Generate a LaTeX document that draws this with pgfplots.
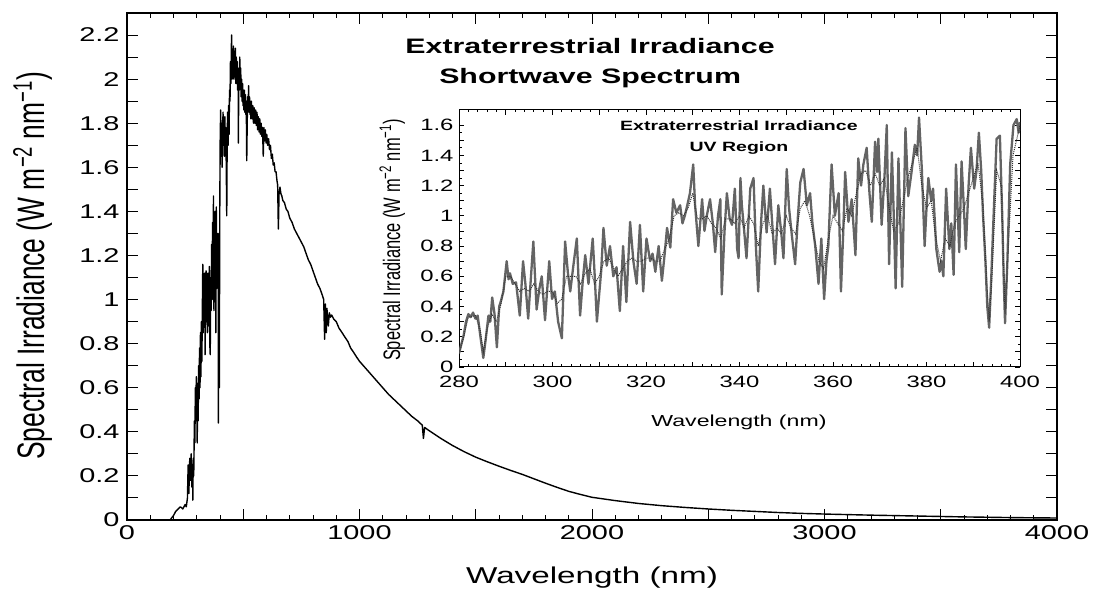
\documentclass[border=0pt]{standalone}
\usepackage{pgfplots}
\pgfplotsset{compat=1.18}
\usepackage{fontspec}
\setmainfont{Liberation Sans}[FakeStretch=1.45]
\newfontfamily\rotfont{Liberation Sans}
\definecolor{uvgray}{RGB}{100,100,100}
\begin{document}
\begin{tikzpicture}
\path[use as bounding box] (0,0) rectangle (1094bp,594bp);
% ---------------- main axis ----------------
\begin{axis}[
  at={(127bp,74bp)}, anchor=south west,
  scale only axis, width=930bp, height=507bp,
  xmin=0, xmax=4000, ymin=0, ymax=2.3,
  axis line style={line width=1.2bp},
  /pgf/number format/assume math mode=true,
  xtick={0,500,...,4000},
  xticklabels={0,,1000,,2000,,3000,,4000},
  minor x tick num=4,
  ytick={0,0.1,0.2,0.3,0.4,0.5,0.6,0.7,0.8,0.9,1.0,1.1,1.2,1.3,1.4,1.5,1.6,1.7,1.8,1.9,2.0,2.1,2.2},
  yticklabels={0,,0.2,,0.4,,0.6,,0.8,,1,,1.2,,1.4,,1.6,,1.8,,2,,2.2},
  tick align=inside,
  major tick length=11bp, minor tick length=5bp,
  every tick/.style={line width=1bp, black},
  tick label style={font=\fontsize{20}{22}\selectfont},
  xticklabel style={yshift=-2bp},
  yticklabel style={xshift=-4bp},
  xlabel={Wavelength (nm)},
  xlabel style={font=\fontsize{23}{26}\selectfont, at={(axis description cs:0.5,-0.114)}, anchor=center},
  ylabel={\scalebox{1}[1.45]{\rotfont\fontsize{26.5}{30}\selectfont Spectral Irradiance (W m\textsuperscript{−2} nm\textsuperscript{−1})}},
  ylabel style={at={(axis description cs:-0.101,0.501)}, anchor=center, rotate=0},
  clip=true,
]
\addplot[black, line width=1.4bp, line join=round] coordinates {
(0,0) (100,0) (185,0) (200,0.02) (210,0.04) (220,0.05) (230,0.06) (240,0.05)
(250,0.07) (255,0.06) (260,0.10) (263,0.25) (266,0.12) (270,0.28) (273,0.18)
(276,0.30) (279,0.15) (282,0.22) (283,0.09) (285,0.28) (287,0.20) (290,0.45)
(292,0.35) (294,0.60) (296,0.45) (298,0.65)
(300,0.52) (302,0.35) (304,0.62) (306,0.45) (308,0.70) (310,0.55) (312,0.78)
(314,0.60) (316,0.85) (318,0.65) (320,0.90) (322,0.72) (324,0.95) (326,1.16)
(328,0.85) (330,1.10) (332,0.90) (334,1.12) (336,0.75) (338,1.10) (340,1.13)
(342,0.90) (344,1.10) (346,0.85) (348,1.12) (350,1.08) (352,0.88) (354,1.15)
(356,0.80) (358,0.75) (360,1.10) (362,0.95) (364,1.25) (366,1.00) (368,1.35)
(370,1.05) (372,1.47) (374,0.95) (376,1.35) (378,1.10) (380,1.40) (382,0.85)
(384,1.42) (386,1.05) (388,1.30) (390,1.10) (392,1.30) (393,0.44) (395,1.20)
(397,0.60) (399,1.40)
(401,1.75) (403,1.86) (405,1.65) (407,1.80) (409,1.60) (411,1.72) (413,1.85)
(415,1.70) (417,1.82) (419,1.65) (421,1.83) (423,1.70) (425,1.78) (427,1.60)
(429,1.38) (431,1.75) (433,1.85) (435,1.70) (437,1.88) (439,1.75) (441,1.95)
(443,1.90) (445,2.08) (447,1.98) (449,2.15) (450,2.20) (452,2.00) (454,2.12)
(456,2.02) (458,2.15) (460,2.00) (462,2.10) (464,2.01) (466,2.14) (468,1.98)
(470,2.10) (472,1.98) (474,2.08) (476,1.95) (478,2.05) (479,1.71) (481,2.03)
(483,1.95) (485,2.10) (487,1.98) (489,2.05) (491,1.92) (493,2.00) (495,1.90)
(497,1.98) (499,1.88) (501,1.95) (503,1.86) (505,1.95) (507,1.85) (509,1.93)
(511,1.84) (513,1.90) (515,1.63) (517,1.80) (519,1.92) (521,1.85) (523,1.97)
(525,1.86) (527,1.92) (529,1.84) (531,1.90) (533,1.82) (535,1.90) (538,1.82)
(541,1.88) (544,1.80) (547,1.87) (550,1.80) (553,1.86) (556,1.79) (559,1.85)
(562,1.77) (565,1.83) (568,1.76) (571,1.82) (574,1.75) (577,1.80) (580,1.74)
(583,1.78) (586,1.65) (589,1.78) (592,1.72) (595,1.77) (598,1.71) (601,1.75)
(605,1.70) (609,1.73) (613,1.68) (617,1.70) (621,1.64) (625,1.66) (629,1.61)
(633,1.62) (637,1.58) (641,1.58) (645,1.54) (648,1.52) (651,1.32) (654,1.48)
(658,1.51) (662,1.48) (666,1.47) (670,1.45) (677,1.44) (685,1.41) (692,1.40)
(700,1.37) (710,1.35) (720,1.32) (730,1.30) (740,1.28) (750,1.26) (760,1.24)
(770,1.21) (780,1.18) (790,1.16) (800,1.13) (810,1.10) (820,1.07) (830,1.05)
(840,1.02) (846,1.00) (850,0.82) (853,0.98) (857,0.85) (860,0.96) (863,0.90)
(866,0.88) (870,0.94) (875,0.92) (880,0.93) (890,0.91) (900,0.90) (912,0.87)
(925,0.85) (937,0.83) (950,0.81) (962,0.78) (975,0.76) (987,0.74)
(1000,0.72) (1025,0.69) (1050,0.66) (1075,0.63) (1100,0.60) (1125,0.57) (1150,0.545)
(1175,0.52) (1200,0.495) (1225,0.47) (1250,0.45) (1270,0.43) (1275,0.37) (1280,0.42)
(1300,0.405) (1350,0.37) (1400,0.338)
(1450,0.31) (1500,0.285) (1550,0.264) (1600,0.244) (1650,0.225) (1700,0.207)
(1750,0.187) (1800,0.167) (1850,0.148) (1900,0.130) (1950,0.116) (2000,0.103)
(2100,0.088) (2200,0.075) (2300,0.065) (2400,0.057) (2500,0.050) (2600,0.044)
(2700,0.039) (2800,0.034) (2900,0.030) (3000,0.027) (3200,0.022) (3400,0.018)
(3600,0.014) (3800,0.011) (4000,0.009)
};
\node[align=center, font=\bfseries\fontsize{21}{30}\selectfont] at (rel axis cs:0.498,0.901) {Extraterrestrial Irradiance\\Shortwave Spectrum};
\end{axis}
% ---------------- inset ----------------
\begin{axis}[
  at={(459bp,227bp)}, anchor=south west,
  scale only axis, width=561bp, height=257bp,
  xmin=280, xmax=400, ymin=0, ymax=1.7,
  axis background/.style={fill=white},
  axis line style={line width=1bp},
  /pgf/number format/assume math mode=true,
  xtick={280,290,...,400},
  xticklabels={280,,300,,320,,340,,360,,380,,400},
  minor x tick num=4,
  ytick={0,0.1,0.2,0.3,0.4,0.5,0.6,0.7,0.8,0.9,1.0,1.1,1.2,1.3,1.4,1.5,1.6},
  yticklabels={0,,0.2,,0.4,,0.6,,0.8,,1,,1.2,,1.4,,1.6},
  minor y tick num=1,
  tick align=inside,
  major tick length=5bp, minor tick length=2.5bp,
  every tick/.style={line width=0.8bp, black},
  tick label style={font=\fontsize{16.5}{18}\selectfont},
  xticklabel style={yshift=-6bp},
  yticklabel style={xshift=-2bp},
  xlabel={Wavelength (nm)},
  xlabel style={font=\fontsize{16}{18}\selectfont, at={(axis description cs:0.499,-0.216)}, anchor=center},
  ylabel={\scalebox{1}[1.45]{\rotfont\fontsize{16.5}{18}\selectfont Spectral Irradiance (W m\textsuperscript{−2} nm\textsuperscript{−1})}},
  ylabel style={at={(axis description cs:-0.119,0.494)}, anchor=center},
  clip=true,
]
\addplot[uvgray, line width=2.3bp, line join=round] coordinates {
(280.0,0.09) (280.5,0.15) (281.0,0.21) (281.5,0.30) (282.0,0.35) (282.5,0.33)
(283.0,0.36) (283.5,0.32) (284.0,0.34) (284.5,0.22) (285.2,0.06) (285.7,0.18)
(286.3,0.34) (286.7,0.30) (287.1,0.46) (287.6,0.35) (288.1,0.13) (288.6,0.40)
(289.0,0.44) (289.5,0.50) (290.2,0.70) (290.6,0.58) (290.9,0.62) (291.5,0.55)
(292.2,0.56) (292.6,0.45) (293.0,0.34) (293.7,0.70) (294.2,0.55) (294.8,0.32)
(295.4,0.60) (295.9,0.83) (296.6,0.38) (297.2,0.52) (297.7,0.60) (298.4,0.31)
(299.3,0.70) (299.9,0.45) (300.5,0.50) (301.2,0.30) (302.0,0.19) (302.7,0.83)
(303.3,0.62) (303.8,0.50) (304.5,0.68) (305.2,0.85) (305.9,0.34) (306.5,0.58)
(307.0,0.74) (307.7,0.55) (308.6,0.85) (309.0,0.62) (309.5,0.30) (309.9,0.45)
(310.4,0.63) (310.9,0.92) (311.6,0.67) (312.3,0.80) (313.0,0.60) (313.7,0.66)
(314.4,0.37) (315.1,0.80) (315.8,0.43) (316.6,0.96) (317.3,0.70) (318.0,0.55)
(318.7,0.94) (319.4,0.50) (320.1,0.85) (320.9,0.70) (321.4,0.75) (322.0,0.63)
(322.7,0.80) (323.4,0.57) (324.0,0.75) (324.5,0.92) (325.2,0.79) (325.8,1.11)
(326.5,1.02) (327.3,1.07) (327.8,0.95) (328.3,1.00) (328.9,1.08) (329.4,1.15)
(330.1,1.34) (330.5,1.07) (331.2,0.80) (332.0,1.11) (332.5,0.90) (333.0,1.00)
(333.7,1.11) (334.3,0.95) (334.8,0.76) (335.4,1.00) (335.9,1.11) (336.2,0.48)
(336.8,0.90) (337.3,1.15) (337.9,0.98) (338.4,0.94) (339.0,1.18) (339.5,0.78)
(339.8,0.72) (340.2,1.25) (340.5,1.07) (341.0,0.90) (341.5,0.72) (342.3,1.18)
(343.0,1.25) (343.5,0.80) (344.0,0.50) (344.6,0.95) (345.1,1.20) (345.8,0.89)
(346.5,1.18) (347.0,0.95) (347.6,0.68) (348.3,1.07) (348.9,0.90) (349.4,0.72)
(350.1,1.31) (350.6,1.05) (351.2,0.87) (351.9,0.68) (352.5,1.00) (353.0,1.22)
(353.7,1.31) (354.4,1.07) (355.1,1.15) (355.6,0.95) (356.2,0.80) (356.9,0.55)
(357.5,0.85) (358.1,0.45) (358.6,0.70) (359.0,0.80) (359.7,1.34) (360.4,1.00)
(361.2,1.15) (361.7,0.50) (362.2,0.90) (362.6,1.29) (363.3,0.96) (364.0,1.11)
(364.8,0.74) (365.4,1.38) (366.0,1.20) (366.5,1.34) (367.2,1.45) (367.8,1.15)
(368.3,0.96) (369.0,1.49) (369.4,1.29) (369.7,1.51) (370.4,0.94) (371.0,1.25)
(371.5,1.60) (372.0,0.68) (372.6,1.42) (373.0,1.00) (373.4,0.52) (374.0,1.38)
(374.8,0.53) (375.5,1.58) (376.1,1.13) (376.8,1.29) (377.5,1.47) (378.0,1.40)
(378.4,1.65) (379.0,1.31) (379.6,0.80) (380.0,1.05) (380.4,1.25) (381.0,1.10)
(381.4,1.18) (382.1,0.78) (382.8,0.63) (383.2,0.70) (383.6,0.60) (384.2,1.18)
(384.9,0.78) (385.3,0.95) (385.8,0.61) (386.3,1.34) (387.0,0.76) (387.5,1.36)
(388.0,1.05) (388.4,0.78) (389.0,1.20) (389.5,1.45) (390.2,1.18) (390.7,1.30)
(391.2,1.55) (391.7,1.30) (392.1,1.00) (392.6,0.70) (393.0,0.40) (393.4,0.26)
(393.8,0.55) (394.3,0.96) (395.0,1.51) (395.7,1.53) (396.2,1.00) (396.5,0.60)
(396.8,0.29) (397.3,0.70) (397.9,1.34) (398.6,1.60) (399.3,1.64) (399.7,1.55)
(400.0,1.62)
};
\addplot[black!80, line width=1bp, densely dotted] coordinates {
(280,0.09) (281,0.2) (282,0.33) (283.5,0.34) (284.5,0.25) (285.2,0.1) (286,0.25)
(287,0.35) (288,0.3) (289,0.42) (290,0.6) (291,0.6) (292,0.55) (293,0.5) (294,0.52)
(295,0.5) (296,0.55) (297,0.5) (298,0.48) (299,0.5) (300,0.5) (301,0.42) (302,0.45)
(303,0.6) (304,0.6) (305,0.6) (306,0.55) (307,0.62) (308,0.65) (309,0.55) (310,0.6)
(311,0.7) (312,0.72) (313,0.66) (314,0.6) (315,0.65) (316,0.7) (317,0.72) (318,0.7)
(319,0.7) (320,0.72) (321,0.72) (322,0.7) (323,0.7) (324,0.78) (325,0.85) (326,1.0)
(327,1.02) (328,1.0) (329,1.05) (330,1.15) (331,0.98) (332,0.98) (333,1.0) (334,0.95)
(335,0.92) (336,0.85) (337,0.98) (338,0.98) (339,0.95) (340,1.0) (341,0.92) (342,1.0)
(343,0.95) (344,0.8) (345,0.95) (346,1.0) (347,0.88) (348,0.92) (349,0.88) (350,1.0)
(351,0.92) (352,0.88) (353,1.05) (354,1.1) (355,1.0) (356,0.85) (357,0.7) (358,0.65)
(359,0.85) (360,1.0) (361,0.95) (362,0.9) (363,1.05) (364,1.0) (365,1.15) (366,1.28)
(367,1.3) (368,1.2) (369,1.28) (370,1.2) (371,1.25) (372,1.05) (373,0.9) (374,0.95)
(375,1.1) (376,1.25) (377,1.35) (378,1.45) (379,1.2) (380,1.05) (381,1.1) (382,0.85)
(383,0.7) (384,0.85) (385,0.8) (386,0.95) (387,1.0) (388,1.05) (389,1.15) (390,1.25)
(391,1.35) (392,1.1) (393,0.5) (393.4,0.3) (394,0.6) (395,1.3) (396,1.2) (396.8,0.35)
(397.5,0.8) (398.5,1.4) (400,1.6)
};
\node[align=center, font=\bfseries\fontsize{13.5}{21}\selectfont] at (rel axis cs:0.499,0.891) {Extraterrestrial Irradiance\\UV Region};
\end{axis}
\end{tikzpicture}
\end{document}
